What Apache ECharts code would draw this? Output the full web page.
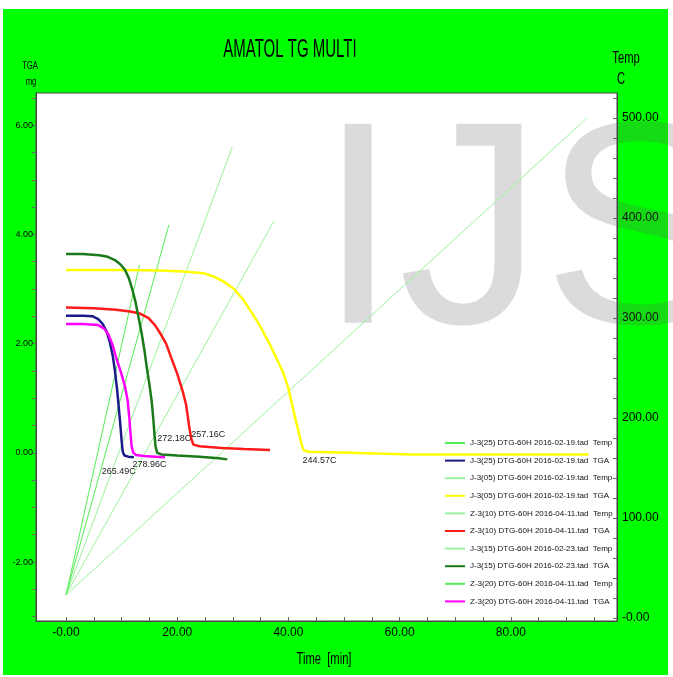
<!DOCTYPE html>
<html>
<head>
<meta charset="utf-8">
<script src="https://cdn.jsdelivr.net/npm/echarts@6/dist/echarts.min.js"></script>
<style>
html,body{margin:0;padding:0;background:#fff;}
#main{width:673px;height:677px;}
</style>
</head>
<body>
<div id="main"></div>
<script>
var FONT = "'Liberation Sans',sans-serif";

// runs, in legend order
var runNames = [
    'J-3(25) DTG-60H 2016-02-19.tad',
    'J-3(05) DTG-60H 2016-02-19.tad',
    'Z-3(10) DTG-60H 2016-04-11.tad',
    'J-3(15) DTG-60H 2016-02-23.tad',
    'Z-3(20) DTG-60H 2016-04-11.tad'
];
var tempColors = ['#55ee55', '#9cf29c', '#9cf29c', '#9cf29c', '#55ee55'];
var tgaColors = ['#1a1a8a', '#ffff00', '#ff1a1a', '#1a7a1a', '#ff00ff'];

// temperature programmes (time min, temp C)
var tempTime = [
    [0, 13.2],
    [0, 93.7],
    [0, 37.4],
    [0, 29.9],
    [0, 18.5]
];
var tempValue = [
    [23, 353],
    [23, 500],
    [23, 397],
    [23, 471],
    [23, 393]
];

// TGA curves (time min, mass mg)
var tgaTime = [
    [0, 3, 4.8, 5.8, 6.6, 7.3, 7.9, 8.4, 8.8, 9.2, 9.5, 9.8, 10.0, 10.2, 10.5, 11.2, 12.2],
    [0, 10, 17, 21, 24.7, 26.5, 28.3, 30.2, 31.9, 33.2, 34.9, 36.5, 37.9, 39.1, 40.0, 40.6, 41.2, 41.8, 42.3, 42.7, 43.6, 51, 62, 75, 85, 94],
    [0, 5, 9, 11.5, 13.3, 14.8, 16.0, 17.0, 18.0, 19.0, 20.0, 21.0, 21.6, 22.1, 22.5, 22.9, 24, 28, 32, 36.7],
    [0, 3, 6, 7.5, 8.8, 9.8, 10.6, 11.3, 11.9, 12.5, 13.1, 13.6, 14.1, 14.5, 15.0, 15.4, 15.7, 15.9, 16.1, 16.4, 17.2, 20, 24, 27.5, 29],
    [0, 3, 5.8, 6.8, 7.6, 8.3, 9.0, 9.8, 10.6, 11.1, 11.4, 11.6, 11.8, 12.1, 12.6, 14, 16, 17.8]
];
var tgaValue = [
    [2.51, 2.51, 2.50, 2.45, 2.36, 2.22, 2.02, 1.78, 1.50, 1.15, 0.82, 0.48, 0.22, 0.02, -0.05, -0.07, -0.08],
    [3.35, 3.35, 3.34, 3.32, 3.29, 3.23, 3.14, 3.00, 2.80, 2.60, 2.32, 2.02, 1.72, 1.46, 1.18, 0.91, 0.65, 0.40, 0.18, 0.05, 0.02, 0.00, -0.03, -0.03, -0.03, -0.03],
    [2.66, 2.65, 2.62, 2.59, 2.55, 2.47, 2.34, 2.18, 2.00, 1.72, 1.45, 1.12, 0.88, 0.52, 0.27, 0.15, 0.12, 0.09, 0.07, 0.05],
    [3.64, 3.64, 3.62, 3.59, 3.53, 3.45, 3.35, 3.20, 3.00, 2.76, 2.45, 2.19, 1.88, 1.58, 1.25, 0.95, 0.62, 0.35, 0.12, 0.00, -0.03, -0.05, -0.07, -0.10, -0.12],
    [2.36, 2.36, 2.34, 2.28, 2.17, 2.00, 1.75, 1.50, 1.22, 0.95, 0.62, 0.35, 0.12, 0.00, -0.04, -0.06, -0.07, -0.08]
];

// onset annotations
var onsetText = ['265.49C', '244.57C', '257.16C', '272.18C', '278.96C'];
var onsetTime = [10.4, 42.7, 22.9, 16.4, 12.3];
var onsetMass = [-0.05, 0.05, 0.15, 0.0, -0.02];
var onsetOffset = [[-5, 16], [16, 10], [15, -10], [17, -14], [15, 11]];

// ticks
var xLabels = [0, 20, 40, 60, 80];
var xTicks = [0, 5, 10, 15, 20, 25, 30, 35, 40, 45, 50, 55, 60, 65, 70, 75, 80, 85, 90, 95];
var tgaLabels = [-2, 0, 2, 4, 6];
var tgaTicks = [-3, -2.5, -2, -1.5, -1, -0.5, 0, 0.5, 1, 1.5, 2, 2.5, 3, 3.5, 4, 4.5, 5, 5.5, 6, 6.5];
var tempLabels = [0, 100, 200, 300, 400, 500];
var tempTicks = [0, 20, 40, 60, 80, 100, 120, 140, 160, 180, 200, 220, 240, 260, 280, 300, 320, 340, 360, 380, 400, 420, 440, 460, 480, 500, 520];

function pairs(a, b){
    var out = [];
    for(var i = 0; i < a.length; i++){
        out.push([a[i], b[i]]);
    }
    return out;
}

var series = [];
var legendNames = [];
for(var i = 0; i < runNames.length; i++){
    var tn = runNames[i] + '  Temp';
    var gn = runNames[i] + '  TGA';
    legendNames.push(tn, gn);
    series.push({
        name: tn, type: 'line', yAxisIndex: 1, symbol: 'none',
        data: pairs(tempTime[i], tempValue[i]),
        lineStyle: {color: tempColors[i], width: 1},
        itemStyle: {color: tempColors[i]},
        z: 2
    });
    series.push({
        name: gn, type: 'line', yAxisIndex: 0, symbol: 'none',
        data: pairs(tgaTime[i], tgaValue[i]),
        lineStyle: {color: tgaColors[i], width: 2.5},
        itemStyle: {color: tgaColors[i]},
        z: 3,
        markPoint: {
            symbol: 'circle', symbolSize: 0, silent: true,
            label: {
                show: true, position: 'inside', color: '#222',
                fontSize: 9, fontFamily: FONT,
                offset: onsetOffset[i],
                formatter: onsetText[i]
            },
            data: [{coord: [onsetTime[i], onsetMass[i]]}]
        }
    });
}

function fmt0(v){
    return v === 0 ? '-0.00' : v.toFixed(2);
}

var myChart = echarts.init(document.getElementById('main'));
var option = {
    animation: false,
    backgroundColor: '#fff',
    grid: {
        left: 36, right: 56, top: 93, bottom: 56,
        show: true, backgroundColor: '#fff',
        borderColor: '#444', borderWidth: 1
    },
    legend: {
        data: legendNames,
        orient: 'vertical',
        left: 439, top: 433,
        itemWidth: 20, itemHeight: 10, itemGap: 7.6,
        itemStyle: {opacity: 0},
        textStyle: {fontSize: 8, fontFamily: FONT, color: '#111', lineHeight: 10},
        selectedMode: false
    },
    xAxis: {
        type: 'value', min: -5.4, max: 99.1,
        axisLine: {show: true, onZero: false, lineStyle: {color: '#444'}},
        axisTick: {show: true, inside: true, length: 4, customValues: xTicks, lineStyle: {color: '#666'}},
        axisLabel: {customValues: xLabels, formatter: fmt0, color: '#000', fontSize: 12, fontFamily: FONT, margin: 6},
        splitLine: {show: false}
    },
    yAxis: [
        {
            type: 'value', min: -3.08, max: 6.59, position: 'left',
            axisLine: {show: true, onZero: false, lineStyle: {color: '#444'}},
            axisTick: {show: true, length: 4, customValues: tgaTicks, lineStyle: {color: '#666'}},
            axisLabel: {customValues: tgaLabels, formatter: function(v){ return v.toFixed(2); }, color: '#000', fontSize: 9, fontFamily: FONT, margin: 3},
            splitLine: {show: false}
        },
        {
            type: 'value', min: -3, max: 525, position: 'right',
            axisLine: {show: true, onZero: false, lineStyle: {color: '#444'}},
            axisTick: {show: true, inside: true, length: 4, customValues: tempTicks, lineStyle: {color: '#666'}},
            axisLabel: {customValues: tempLabels, formatter: fmt0, color: '#000', fontSize: 12, fontFamily: FONT, margin: 5},
            splitLine: {show: false}
        }
    ],
    graphic: [
        {type: 'rect', z: -10, silent: true, shape: {x: 3, y: 9, width: 665, height: 666}, style: {fill: '#00ff00'}},
        {type: 'text', z: 1, silent: true, x: 318, y: 243,
            style: {text: 'IJS', fontSize: 289, fontFamily: 'Liberation Sans', fill: 'rgba(90,90,90,0.22)', textVerticalAlign: 'middle'}},
        {type: 'text', z: 5, silent: true, x: 290, y: 50, scaleX: 0.6,
            style: {text: 'AMATOL TG MULTI', fontSize: 25, fontFamily: 'Liberation Sans', fill: '#000', textAlign: 'center', textVerticalAlign: 'middle'}},
        {type: 'text', z: 5, silent: true, x: 30, y: 66, scaleX: 0.7,
            style: {text: 'TGA', fontSize: 11, fontFamily: 'Liberation Sans', fill: '#000', textAlign: 'center', textVerticalAlign: 'middle'}},
        {type: 'text', z: 5, silent: true, x: 31, y: 82, scaleX: 0.7,
            style: {text: 'mg', fontSize: 11, fontFamily: 'Liberation Sans', fill: '#000', textAlign: 'center', textVerticalAlign: 'middle'}},
        {type: 'text', z: 5, silent: true, x: 626, y: 59, scaleX: 0.7,
            style: {text: 'Temp', fontSize: 16, fontFamily: 'Liberation Sans', fill: '#000', textAlign: 'center', textVerticalAlign: 'middle'}},
        {type: 'text', z: 5, silent: true, x: 621, y: 80, scaleX: 0.7,
            style: {text: 'C', fontSize: 16, fontFamily: 'Liberation Sans', fill: '#000', textAlign: 'center', textVerticalAlign: 'middle'}},
        {type: 'text', z: 5, silent: true, x: 324, y: 660, scaleX: 0.7,
            style: {text: 'Time  [min]', fontSize: 16, fontFamily: 'Liberation Sans', fill: '#000', textAlign: 'center', textVerticalAlign: 'middle'}}
    ],
    series: series
};
myChart.setOption(option);
</script>
</body>
</html>
